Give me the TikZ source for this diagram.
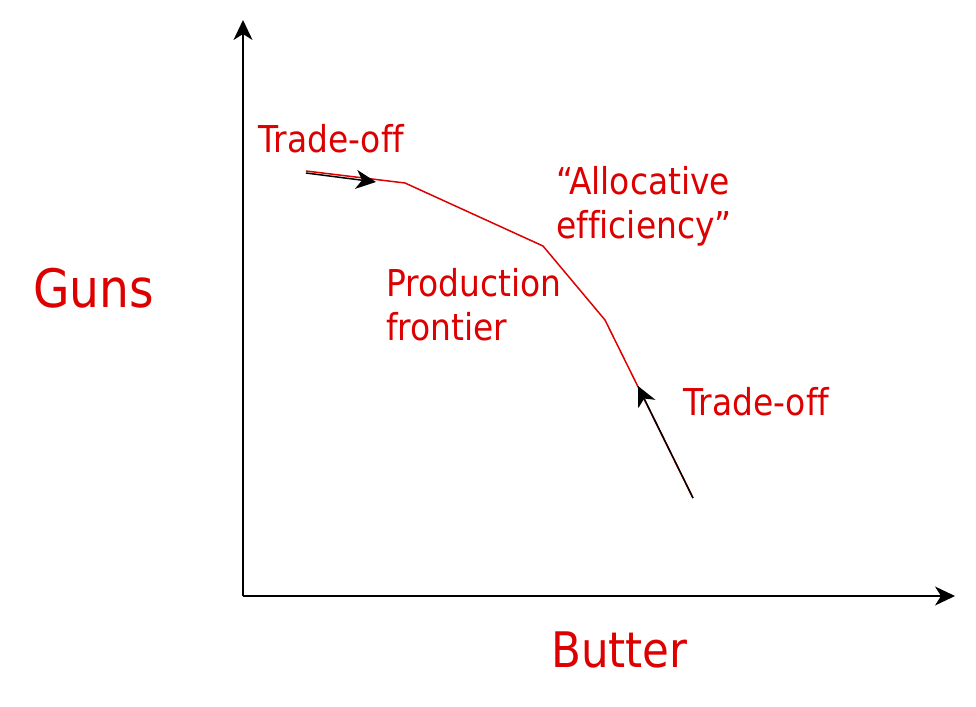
\documentclass[tikz,border=0pt]{standalone}
\usepackage{fontspec}
\setmainfont[FakeStretch=0.89,Ligatures={NoCommon}]{DejaVu Sans}
\usetikzlibrary{arrows.meta}
\definecolor{labred}{RGB}{221,0,0}
\begin{document}
\begin{tikzpicture}[x=1pt,y=-1pt,
  lbl/.style={text=labred, inner sep=0pt, anchor=base west, align=left,
    font=\fontsize{37}{44}\selectfont},
  big/.style={text=labred, inner sep=0pt, anchor=base west,
    font=\fontsize{50}{60}\selectfont},
  axis/.style={line width=1.5pt, -{Stealth[length=20pt,width=19pt,inset=6pt]}},
  tradearrow/.style={line width=1.5pt, -{Stealth[length=20pt,width=19pt,inset=6pt]}},
  frontier/.style={draw=labred, line width=1.5pt}]
\useasboundingbox (0,0) rectangle (976,706);
% axes
\coordinate (O) at (243,596);
\coordinate (ytop) at (243,20);
\coordinate (xend) at (955,596);
\draw[axis] (O) -- (ytop);
\draw[axis] (O) -- (xend);
% frontier
\coordinate (p1) at (306,171);
\coordinate (p2) at (405,183);
\coordinate (p3) at (543,246);
\coordinate (p4) at (605,320);
\coordinate (p5) at (693,498);
\draw[frontier] (p1) -- (p2) -- (p3) -- (p4) -- (p5);
% trade-off arrows
\coordinate (a1s) at (306,173);
\coordinate (a1e) at (376,182);
\coordinate (a2s) at (693,498);
\coordinate (a2e) at (638,386);
\draw[tradearrow] (a1s) -- (a1e);
\draw[tradearrow] (a2s) -- (a2e);
% labels (base anchor = baseline of last line)
\node[lbl] (t1) at (258,152) {Trade-off};
\node[lbl] (alloc) at (556,238) {“Allocative\\efficiency”};
\node[lbl] (prod) at (386,340) {Production\\frontier};
\node[lbl] (t2) at (683,415) {Trade-off};
\node[big] (guns) at (33,307) {\fontsize{53}{60}\selectfont Guns};
\node[big] (butter) at (551,667) {\fontsize{49}{60}\selectfont Butter};
\end{tikzpicture}
\end{document}
